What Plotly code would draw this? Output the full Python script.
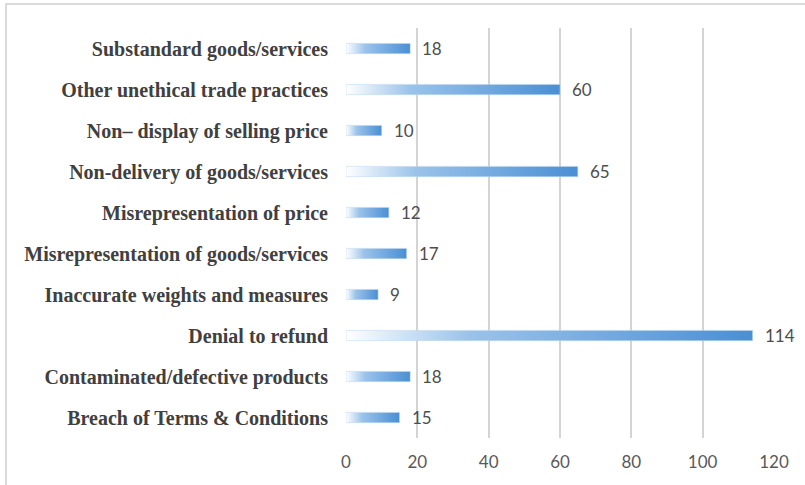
import plotly.graph_objects as go

categories = [
    "Breach of Terms & Conditions",
    "Contaminated/defective products",
    "Denial to refund",
    "Inaccurate weights and measures",
    "Misrepresentation of goods/services",
    "Misrepresentation of price",
    "Non-delivery of goods/services",
    "Non\u2013 display of selling price",
    "Other unethical trade practices",
    "Substandard goods/services",
]
values = [15, 18, 114, 9, 17, 12, 65, 10, 60, 18]
x_ticks = [0, 20, 40, 60, 80, 100, 120]

W, H = 805, 485
L, R, T, B = 346, 31, 28, 47
half = 0.125

fig = go.Figure()
for i, v in enumerate(values):
    fig.add_trace(go.Scatter(
        x=[0, v, v, 0, 0],
        y=[i - half, i - half, i + half, i + half, i - half],
        mode="lines",
        line=dict(width=0.6, color="rgba(190,215,240,0.9)"),
        fill="toself",
        fillgradient=dict(
            type="horizontal",
            colorscale=[[0, "rgba(255,255,255,1)"], [0.3, "#9bc3ea"], [1, "#4a8fd4"]],
        ),
        hoverinfo="skip",
        showlegend=False,
    ))

for i, v in enumerate(values):
    fig.add_annotation(
        x=v, y=i, text=str(v), showarrow=False,
        xanchor="left", yanchor="middle", xshift=10,
        font=dict(family="Lato, Carlito, sans-serif", size=17, color="#4d4d4d"),
    )

pw = W - L - R
ph = H - T - B
fig.add_shape(
    type="rect", xref="paper", yref="paper",
    x0=(6 - L) / pw, x1=(W + 20 - L) / pw,
    y0=-(H + 20 - T - ph) / ph, y1=1 + (T - 4) / ph,
    line=dict(color="#d0d0d0", width=1.5), fillcolor="rgba(0,0,0,0)", layer="below",
)

fig.update_layout(
    width=W, height=H,
    margin=dict(l=L, r=R, t=T, b=B),
    paper_bgcolor="white", plot_bgcolor="white",
    xaxis=dict(
        range=[0, 120], tickvals=x_ticks,
        showgrid=True, gridcolor="#d4d4d4", gridwidth=1.5,
        zeroline=False, showline=False, ticks="",
        ticklabelstandoff=12,
        tickfont=dict(family="Lato, Carlito, sans-serif", size=17, color="#595959"),
        fixedrange=True,
    ),
    yaxis=dict(
        range=[-0.5, 9.5], tickvals=list(range(len(categories))), ticktext=categories,
        showgrid=False, zeroline=False, showline=False, ticks="",
        ticklabelstandoff=17,
        tickfont=dict(family="Liberation Serif, Times New Roman, serif", size=20, color="#404040",
                      weight="bold"),
        fixedrange=True,
    ),
)

fig.write_html("out.html")
